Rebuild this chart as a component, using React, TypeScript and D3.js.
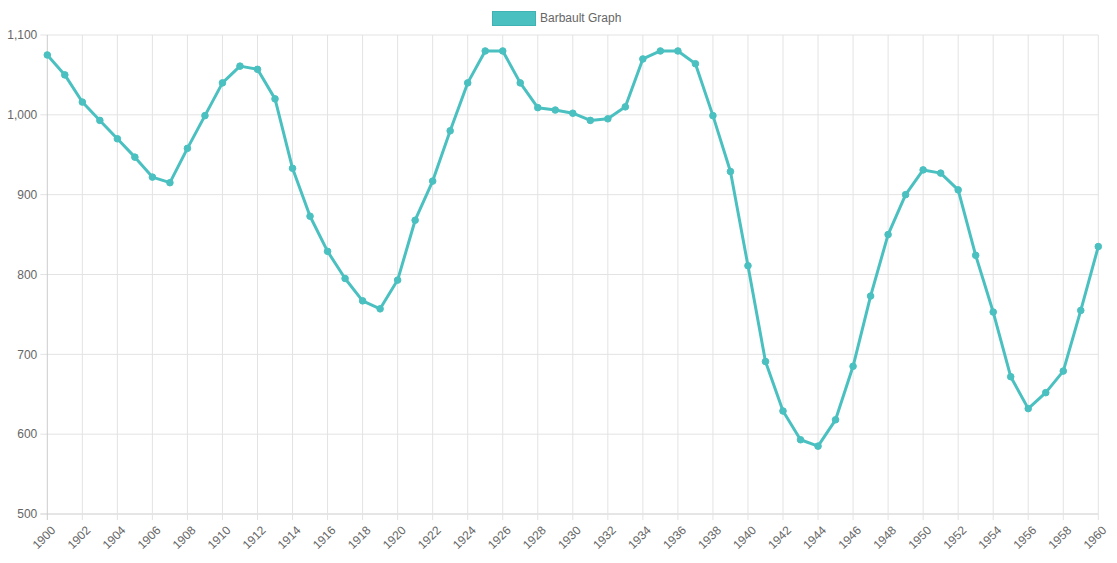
import * as d3 from "d3";

// categories
const years = [
  1900, 1901, 1902, 1903, 1904, 1905, 1906, 1907, 1908, 1909,
  1910, 1911, 1912, 1913, 1914, 1915, 1916, 1917, 1918, 1919,
  1920, 1921, 1922, 1923, 1924, 1925, 1926, 1927, 1928, 1929,
  1930, 1931, 1932, 1933, 1934, 1935, 1936, 1937, 1938, 1939,
  1940, 1941, 1942, 1943, 1944, 1945, 1946, 1947, 1948, 1949,
  1950, 1951, 1952, 1953, 1954, 1955, 1956, 1957, 1958, 1959,
  1960,
];

// Barbault index values
const barbault = [
  1075, 1050, 1016, 993, 970, 947, 922, 915, 958, 999,
  1040, 1061, 1057, 1020, 933, 873, 829, 795, 767, 757,
  793, 868, 917, 980, 1040, 1080, 1080, 1040, 1009, 1006,
  1002, 993, 995, 1010, 1070, 1080, 1080, 1064, 999, 929,
  811, 691, 629, 593, 585, 618, 685, 773, 850, 900,
  931, 927, 906, 824, 753, 672, 632, 652, 679, 755,
  835,
];

const yTicks = [500, 600, 700, 800, 900, 1000, 1100];
const seriesName = "Barbault Graph";

const W = 1117;
const H = 563;
const margin = { top: 35, right: 18.7, bottom: 49, left: 47.3 };
const color = "#4bc0c0";
const font = "'Liberation Sans', Arial, sans-serif";

export default function App() {
  const innerW = W - margin.left - margin.right;
  const innerH = H - margin.top - margin.bottom;

  const x = d3.scaleLinear().domain([1900, 1960]).range([0, innerW]);
  const y = d3.scaleLinear().domain([500, 1100]).range([innerH, 0]);

  const pts = years.map((yr, i) => ({ yr, v: barbault[i] }));

  const line = d3
    .line<{ yr: number; v: number }>()
    .x((d) => x(d.yr))
    .y((d) => y(d.v));

  const fmt = d3.format(",");
  // labels (and their grid lines) are auto-skipped to every second year
  const xTickYears = years.filter((yr) => (yr - 1900) % 2 === 0);

  return (
    <svg
      width={W}
      height={H}
      style={{ position: "absolute", left: 0, top: 0, display: "block" }}
      fontFamily={font}
    >
      {/* legend */}
      <g>
        <rect x={492.5} y={11.5} width={43} height={14} fill={color} stroke="#3fb3b3" strokeWidth={1} />
        <text x={540} y={19} fontSize={12} fill="#666" dominantBaseline="middle">
          {seriesName}
        </text>
      </g>

      <g transform={`translate(${margin.left},${margin.top})`}>
        {/* horizontal grid + y ticks */}
        {yTicks.map((t) => (
          <g key={t} transform={`translate(0,${y(t)})`}>
            <line x1={-7} x2={innerW} stroke={t === 500 ? "#cccccc" : "#e3e3e3"} strokeWidth={1} />
            <text x={-10} dy="0.35em" textAnchor="end" fontSize={12} fill="#666">
              {fmt(t)}
            </text>
          </g>
        ))}

        {/* vertical grid + x ticks */}
        {xTickYears.map((yr) => (
          <g key={yr}>
            <line
              x1={x(yr)}
              x2={x(yr)}
              y1={0}
              y2={innerH + 6}
              stroke={yr === 1900 ? "#cccccc" : "#e3e3e3"}
              strokeWidth={1}
            />
            <text
              transform={`translate(${x(yr) + 6},${innerH + 14}) rotate(-45)`}
              textAnchor="end"
              dy="0.35em"
              fontSize={12}
              fill="#666"
            >
              {yr}
            </text>
          </g>
        ))}

        {/* series */}
        <path d={line(pts) ?? ""} fill="none" stroke={color} strokeWidth={3} strokeLinejoin="round" />
        {pts.map((d) => (
          <circle key={d.yr} cx={x(d.yr)} cy={y(d.v)} r={3.3} fill={color} stroke={color} strokeWidth={1} />
        ))}
      </g>
    </svg>
  );
}
